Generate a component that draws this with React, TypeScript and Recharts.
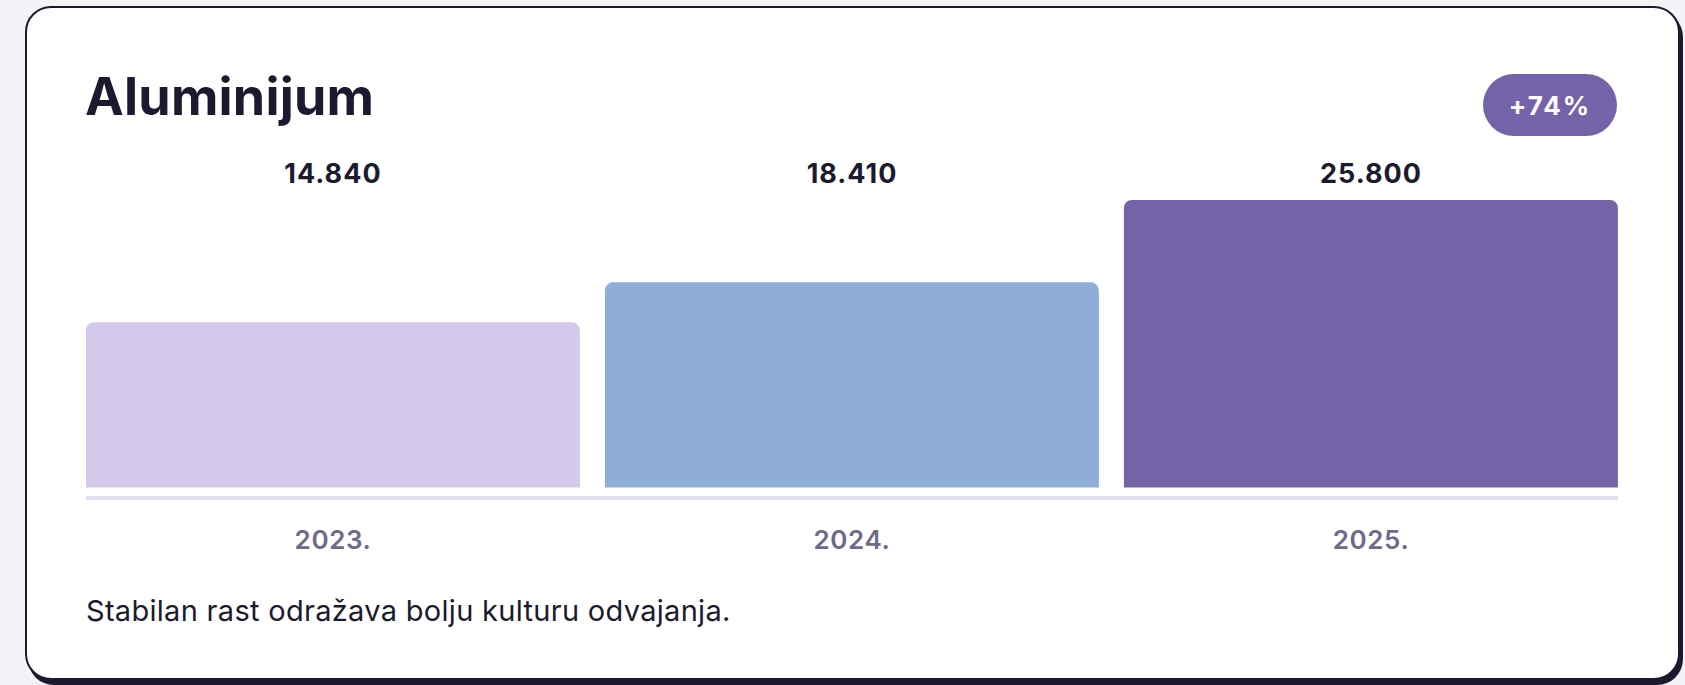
import React from 'react';
import { BarChart, Bar, XAxis, YAxis, Cell } from 'recharts';

const years = ['2023.', '2024.', '2025.'];
const amounts = [14840, 18410, 25800];
const amountLabels = ['14.840', '18.410', '25.800'];
const barColors = ['#d4c8eb', '#8eaed8', '#7463a8'];

const title = 'Aluminijum';
const badge = '+74%';
const note = 'Stabilan rast odražava bolju kulturu odvajanja.';

const data = years.map((year, i) => ({
  year,
  amount: amounts[i],
  label: amountLabels[i],
}));

const font = 'Inter, "Noto Sans", sans-serif';
const ink = '#1b1a2e';

const App: React.FC = () => {
  return (
    <div
      style={{
        position: 'absolute',
        left: 0,
        top: 0,
        width: 1685,
        height: 685,
        overflow: 'hidden',
        background: '#f4f4f8',
        fontFamily: font,
      }}
    >
      {/* card */}
      <div
        style={{
          position: 'absolute',
          left: 25,
          top: 6,
          width: 1655,
          height: 674,
          boxSizing: 'border-box',
          border: `2px solid ${ink}`,
          borderRadius: 26,
          background: '#ffffff',
          boxShadow: `3px 5px 0 ${ink}`,
        }}
      />

      <div
        style={{
          position: 'absolute',
          left: 85,
          top: 71,
          fontSize: 52,
          lineHeight: 1,
          fontWeight: 700,
          color: ink,
          letterSpacing: 0.2,
        }}
      >
        {title}
      </div>

      <div
        style={{
          position: 'absolute',
          left: 1483,
          top: 74,
          width: 134,
          height: 62,
          borderRadius: 31,
          background: '#7463a8',
          color: '#ffffff',
          display: 'flex',
          alignItems: 'center',
          justifyContent: 'center',
          fontSize: 26,
          fontWeight: 700,
          letterSpacing: 2,
        }}
      >
        {badge}
      </div>

      <div style={{ position: 'absolute', left: 86, top: 140 }}>
        <BarChart
          width={1532}
          height={420}
          data={data}
          margin={{ top: 0, right: 0, bottom: 0, left: 0 }}
          barCategoryGap={12.4}
          style={{ fontFamily: font }}
        >
          <XAxis
            xAxisId="top"
            dataKey="label"
            orientation="top"
            height={60}
            padding={{ left: -12.5, right: -12.5 }}
            axisLine={false}
            tickLine={false}
            tickSize={0}
            tickMargin={17}
            tick={{ fontSize: 27, fontWeight: 700, fill: ink, fontFamily: font, letterSpacing: 1 }}
          />
          <XAxis
            xAxisId="bottom"
            dataKey="year"
            height={62}
            padding={{ left: -12.5, right: -12.5 }}
            axisLine={{ stroke: '#e2dff0', strokeWidth: 4 }}
            tickLine={false}
            tickSize={0}
            tickMargin={33}
            tick={{ fontSize: 26, fontWeight: 600, fill: '#6e6a8a', fontFamily: font, letterSpacing: 0.6 }}
          />
          <YAxis hide width={0} type="number" domain={[-942, 25800]} />
          <Bar
            xAxisId="bottom"
            dataKey="amount"
            radius={[8, 8, 0, 0]}
            isAnimationActive={false}
          >
            {data.map((d, i) => (
              <Cell key={d.year} fill={barColors[i]} />
            ))}
          </Bar>
        </BarChart>
      </div>

      <div
        style={{
          position: 'absolute',
          left: 86,
          top: 596,
          fontSize: 29,
          lineHeight: 1,
          fontWeight: 400,
          color: ink,
          letterSpacing: 0.3,
        }}
      >
        {note}
      </div>
    </div>
  );
};

export default App;
